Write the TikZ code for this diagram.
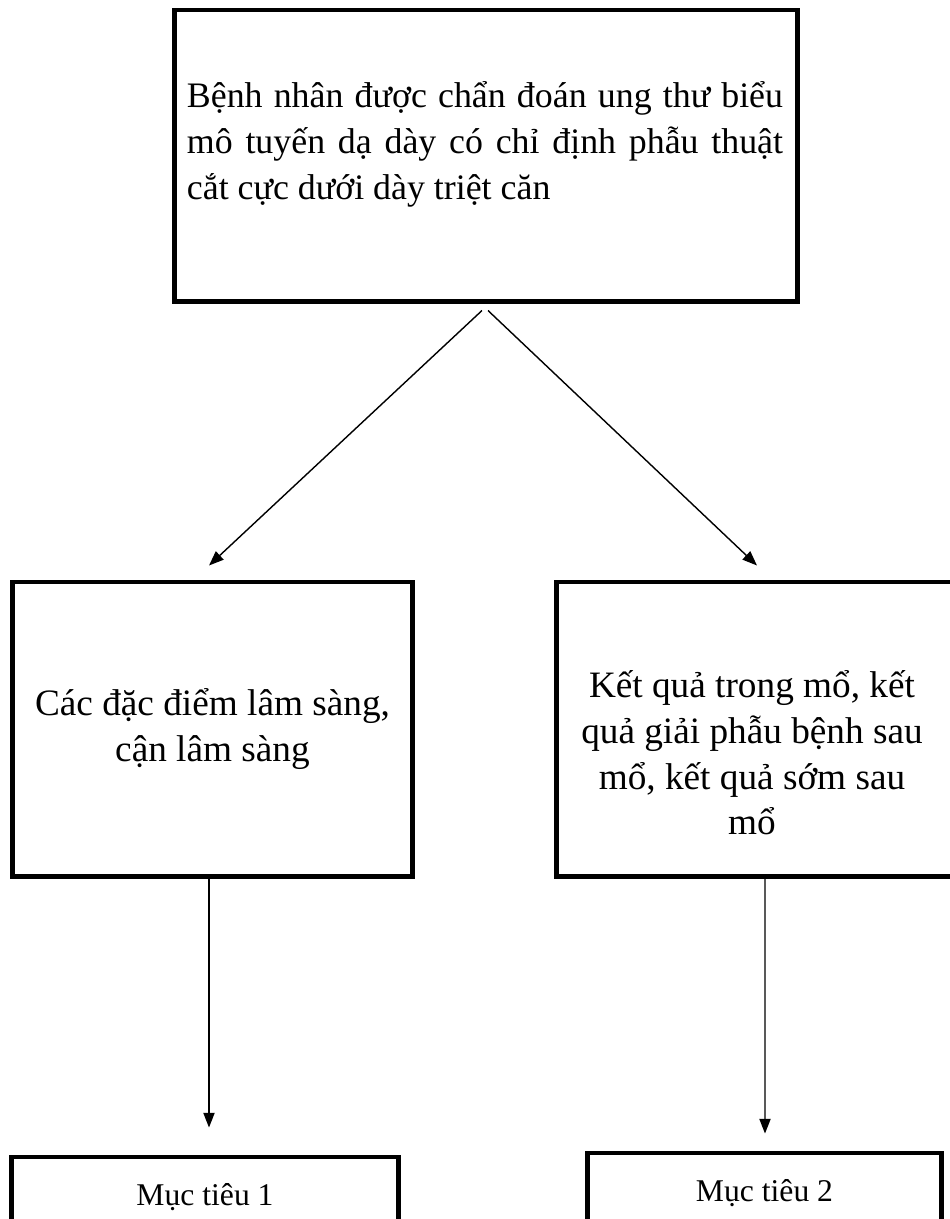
\documentclass[tikz,border=0pt]{standalone}
\usepackage{fontspec}
\setmainfont{Liberation Serif}
\usetikzlibrary{arrows.meta, positioning, calc}
\hyphenpenalty=10000
\exhyphenpenalty=10000
\tikzset{
  every picture/.style={line width=1pt},
  box/.style={draw=black, line width=3.5pt, inner sep=0pt, align=center,
    font=\fontsize{26.5}{32.5}\selectfont},
  goalbox/.style={box, font=\fontsize{22.5}{26}\selectfont},
  boxtext/.style={align=center, inner sep=0pt, font=\fontsize{26.5}{32.5}\selectfont},
  arrow/.style={-{Triangle[length=10.5pt, width=8pt]}, draw=black, line width=1pt},
}

\begin{document}
\begin{tikzpicture}[x=0.025cm, y=-0.025cm]
  \useasboundingbox (0,0) rectangle (949,1219);
  % boxes
  \node[box, minimum width=15.55cm, minimum height=7.275cm] (patient) at (486,155.5) {};
  \node[boxtext, font=\fontsize{25.5}{32.7}\selectfont, text width=14.9cm, align=justify] (patienttext)
    at ($(patient.center)+(-1,-11)$)
    {Bệnh nhân được chẩn đoán ung thư biểu\linebreak mô tuyến dạ dày có chỉ định phẫu thuật\linebreak cắt cực dưới dày triệt căn};
  \node[box, minimum width=9.975cm, minimum height=7.35cm] (clinical) at (212.5,729)
    {Các đặc điểm lâm sàng,\\ cận lâm sàng};
  \node[box, minimum width=9.95cm, minimum height=7.35cm] (result) at (756,729) {};
  \node[boxtext] (resulttext) at ($(result.center)+(-4,24)$)
    {Kết quả trong mổ, kết\\ quả giải phẫu bệnh sau\\ mổ, kết quả sớm sau\\ mổ};
  \node[goalbox, minimum width=9.65cm, minimum height=2cm] (goal1) at (205,1197) {Mục tiêu 1};
  \node[goalbox, minimum width=8.825cm, minimum height=2cm] (goal2) at (764.5,1193) {Mục tiêu 2};
  % connectors
  \draw[arrow] ($(patient.south)+(-4,7)$) -- ($(clinical.north)+(-3.5,-14)$);
  \draw[arrow] ($(patient.south)+(2,7)$) -- ($(result.north)+(1,-14)$);
  \draw[arrow] ($(clinical.south)+(-3.5,0)$) -- ($(goal1.north)+(4,-27)$);
  \draw[arrow] ($(result.south)+(9,0)$) -- ($(goal2.north)+(0.5,-17)$);
\end{tikzpicture}
\end{document}
